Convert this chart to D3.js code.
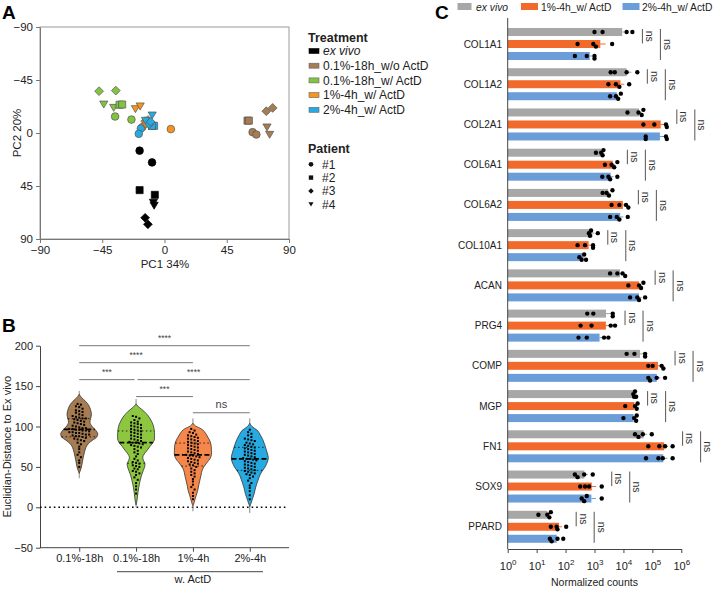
<!DOCTYPE html>
<html><head><meta charset="utf-8">
<script src="https://cdn.jsdelivr.net/npm/d3@7"></script>
<style>body{margin:0;background:#fff} text{font-family:"Liberation Sans",Arial,Helvetica,sans-serif;}</style>
</head><body>
<svg id="c" width="716" height="591" xmlns="http://www.w3.org/2000/svg"></svg>
<script>
// ================= DATA =================
// ---- Panel A (PCA) ----
const treatments = ["ex vivo","0.1%-18h_w/o ActD","0.1%-18h_w/ ActD","1%-4h_w/ ActD","2%-4h_w/ ActD"];
const treatColors = ["#000000","#a67c52","#82c341","#f7941d","#27aae1"];
const patients = ["#1","#2","#3","#4"];
const pcaTicks = [-90,-45,0,45,90];
// [patientIndex, PC1, PC2]
const pcaExVivo = [[0,-18,15],[0,-9,25],[1,-18,48.5],[1,-7,52.5],[3,-8,59],[3,-7.5,61.5],[2,-14,72],[2,-12,77.5]];
const pcaNoActD = [[1,60,-10.5],[1,61,-10.5],[2,73.6,-18.5],[2,78.2,-21.3],[0,63.7,-0.7],[0,66.4,1.3],[3,74.1,-5],[3,76,1.3]];
const pcaLowActD = [[2,-47.3,-35.5],[2,-35.2,-36],[3,-43.9,-24.4],[3,-36.7,-21.6],[1,-32.5,-24],[1,-30.6,-24.2],[0,-35.7,-14],[0,-23.9,-11.4]];
const pcaOneActD = [[3,-21,-20.5],[3,-17.6,-22.8],[0,4.6,-3.3],[0,-16,-5],[2,-14,-10],[2,-12,-11],[1,-13,-8],[1,-9,-6]];
const pcaTwoActD = [[3,-8.9,-15.1],[3,-13.7,-10.6],[1,-7.5,-6.1],[1,-9,-6],[2,-11.1,-7.5],[2,-10,-9.5],[0,-17.1,-3.8],[0,-18.6,0.7]];
const pcaSets = [pcaExVivo,pcaNoActD,pcaLowActD,pcaOneActD,pcaTwoActD];

// ---- Panel B (violins) ----
const violinGroups = ["0.1%-18h","0.1%-18h ","1%-4h","2%-4h"];
const violinColors = ["#a67c52","#8dc63f","#f6874a","#27aae1"];
const distTicks = [-50,0,50,100,150,200];
const distBrown = [128,127,125,124,122,120,119,118,117,115,114,113,112,111,110,110,109,108,107,106,105,104,103,102,101,100,99,98,98,97,97,96,96,95,95,94,93,93,92,92,91,90,90,89,88,88,87,86,85,84,83,82,80,78,75,72,68,65,62,58,55,50];
const distGreen = [113,112,110,108,106,105,104,103,102,101,100,99,98,97,96,95,94,93,92,91,90,89,88,87,86,85,84,83,82,81,80,80,79,78,77,76,75,74,72,70,68,66,63,60,58,56,55,54,52,51,50,48,47,45,44,42,40,37,34,30,26,22,17];
const distOrange = [97,95,93,92,90,89,88,87,86,85,84,83,82,81,80,79,78,77,76,75,74,73,72,71,70,69,68,67,66,65,64,64,63,62,61,60,59,58,57,56,55,54,53,52,50,48,46,44,42,40,38,35,32,28,25,22,18,14,10];
const distBlue = [96,93,91,89,87,85,84,83,82,80,79,78,77,76,75,74,73,72,71,70,69,68,67,66,65,64,63,62,61,60,60,59,58,57,56,55,54,53,52,51,50,49,48,47,46,45,44,43,42,41,40,38,36,33,30,27,24,20,15,10];
// relative density profiles [value, density 0..1]
const densBrown = [[140,0],[136,0.12],[131,0.35],[126,0.52],[120,0.62],[115,0.66],[110,0.62],[105,0.58],[100,0.7],[95,0.9],[91,1.0],[87,0.95],[83,0.72],[79,0.5],[74,0.36],[68,0.28],[62,0.22],[56,0.17],[50,0.12],[45,0.05],[42,0]];
const densGreen = [[128,0],[124,0.15],[119,0.42],[113,0.66],[108,0.8],[102,0.92],[96,0.98],[89,1.0],[83,0.98],[79,0.88],[75,0.74],[70,0.58],[66,0.44],[62,0.36],[58,0.4],[54,0.48],[50,0.46],[45,0.38],[40,0.3],[35,0.24],[30,0.19],[24,0.14],[18,0.1],[12,0.07],[6,0.03],[3,0]];
const densOrange = [[104,0],[101,0.12],[96,0.52],[91,0.7],[87,0.8],[82,0.92],[77,0.98],[70,1.0],[65,1.0],[60,0.92],[56,0.78],[51,0.62],[46,0.5],[40,0.44],[34,0.38],[28,0.32],[21,0.26],[15,0.18],[9,0.1],[4,0.04],[2,0]];
const densBlue = [[104,0],[100,0.12],[95,0.42],[90,0.56],[84,0.7],[78,0.8],[72,0.88],[66,0.96],[61,1.0],[56,0.95],[50,0.83],[45,0.68],[40,0.55],[35,0.47],[30,0.39],[24,0.31],[17,0.24],[12,0.17],[8,0.11],[4,0.05],[1,0]];
const tailRanges = [[36,144],[0,134],[-5,110],[-7,110]];
const violinValues = [distBrown,distGreen,distOrange,distBlue];
const violinDens = [densBrown,densGreen,densOrange,densBlue];
// significance: [groupA, groupB, level, label]
const sigPairs = [[0,3,200,"****"],[0,2,179,"****"],[0,1,158,"***"],[1,3,158,"****"],[1,2,137,"***"],[2,3,117,"ns"]];

// ---- Panel C (bars) ----
const genes = ["COL1A1","COL1A2","COL2A1","COL6A1","COL6A2","COL10A1","ACAN","PRG4","COMP","MGP","FN1","SOX9","PPARD"];
const barGroups = ["ex vivo","1%-4h_w/ ActD","2%-4h_w/ ActD"];
const barColors = ["#a7a7a7","#f26a2b","#6b9dd9"];
const countTicks = [1,10,100,1e3,1e4,1e5,1e6];
const countsExVivo = [[1000,1900,12900,20400],[3630,5010,12900,30200],[13800,33100,42700,49000],[1120,1700,1910,2040],[1910,2630,3160,4170],[640,700,760,1300],[3470,6170,9330,11500],[560,910,4270,4270],[12900,24000,56200,56200],[21900,23400,25100,27500],[25100,33100,46800,95500],[210,260,440,870],[11.5,23.4,27.5,30.9]];
const countsOneActD = [[260,910,1120,4070],[3020,5500,7240,15800],[49000,117000,295000,316000],[2290,3890,4790,6170],[3890,7240,12300,14800],[260,470,890,890],[14800,34700,40700,49000],[330,790,3630,5130],[72400,102000,209000,240000],[11500,25100,28800,30900],[72400,174000,275000,501000],[320,470,650,1780],[30.9,49,52.5,105]];
const countsTwoActD = [[210,540,1000,1000],[3470,5500,6600,8130],[58900,58900,295000,316000],[1860,3020,3470,6170],[3470,5890,7240,14100],[300,360,440,510],[17000,30200,34700,56200],[280,540,2140,3020],[72400,83200,141000,275000],[10000,23400,27500,28800],[60300,162000,229000,501000],[360,440,540,1780],[28.8,33.1,52.5,83.2]];
const barCounts = [countsExVivo,countsOneActD,countsTwoActD];

// ================= DRAW =================
const svg = d3.select("#c");
function styleAxis(g, fs){
  g.selectAll(".domain").attr("stroke","#444");
  g.selectAll(".tick line").attr("stroke","#444");
  g.selectAll(".tick text").attr("fill","#222").style("font-size",fs+"px")
   .style("font-family",'"Liberation Sans",Arial,sans-serif');
}
// panel letters
[["A",2,19],["B",2,332],["C",435,19]].forEach(([t,x,y])=>{
  svg.append("text").attr("x",x).attr("y",y).text(t).attr("font-weight","bold").attr("font-size",19).attr("fill","#000");
});

// ---- symbols ----
function symPath(p, s){
  s = s||1;
  if(p===0) return d3.symbol(d3.symbolCircle, 46*s*s)();
  if(p===1) return d3.symbol(d3.symbolSquare, 50*s*s)();
  if(p===2){ const a=4.4*s; return `M0,${-a}L${a},0L0,${a}L${-a},0Z`; }
  const w=4.1*s, h1=3.2*s, h2=3.8*s; return `M${-w},${-h1}L${w},${-h1}L0,${h2}Z`;
}

// ---- Panel A ----
const xA = d3.scaleLinear().domain([-90,90]).range([40,289]);
const yA = d3.scaleLinear().domain([-90,90]).range([27,239]);
const gA = svg.append("g");
gA.append("rect").attr("x",xA(-90)).attr("y",yA(-90)).attr("width",xA(90)-xA(-90)).attr("height",yA(90)-yA(-90))
  .attr("fill","none").attr("stroke","#9a9a9a").attr("stroke-width",1);
const axAx = gA.append("g").attr("transform",`translate(0,${yA(90)})`).call(d3.axisBottom(xA).tickValues(pcaTicks).tickSize(4).tickSizeOuter(0));
const axAy = gA.append("g").attr("transform",`translate(${xA(-90)},0)`).call(d3.axisLeft(yA).tickValues(pcaTicks).tickSize(4).tickSizeOuter(0));
styleAxis(axAx,11.5); styleAxis(axAy,11.5);
axAx.selectAll(".domain,.tick line").attr("stroke","#777");
axAy.selectAll(".domain,.tick line").attr("stroke","#777");
gA.append("text").attr("x",165).attr("y",268).attr("text-anchor","middle").attr("font-size",11.5).attr("fill","#222").text("PC1 34%");
gA.append("text").attr("transform","translate(21,133) rotate(-90)").attr("text-anchor","middle").attr("font-size",11.5).attr("fill","#222").text("PC2 20%");
pcaSets.forEach((set,t)=>{
  gA.append("g").selectAll("path").data(set).join("path")
    .attr("d",d=>symPath(d[0]))
    .attr("transform",d=>`translate(${xA(d[1])},${yA(d[2])})`)
    .attr("fill",treatColors[t])
    .attr("stroke",t===0?"#000":"#555").attr("stroke-width",0.7);
});
// legend A
const lg = svg.append("g");
lg.append("text").attr("x",308).attr("y",42).attr("font-weight","bold").attr("font-size",12.5).attr("fill","#222").text("Treatment");
treatments.forEach((t,i)=>{
  const cy = 51 + i*14.7;
  lg.append("rect").attr("x",309).attr("y",cy-2.5).attr("width",10).attr("height",5).attr("fill",treatColors[i]).attr("stroke",i===0?"#000":"#666").attr("stroke-width",0.6);
  lg.append("text").attr("x",323).attr("y",cy+4.3).attr("font-size",12).attr("fill","#222")
    .attr("font-style",i===0?"italic":"normal").text(t);
});
lg.append("text").attr("x",308).attr("y",153).attr("font-weight","bold").attr("font-size",12.5).attr("fill","#222").text("Patient");
patients.forEach((p,i)=>{
  const cy = 164.3 + i*13.3;
  lg.append("path").attr("d",symPath(i,0.62)).attr("transform",`translate(311,${cy})`).attr("fill","#111");
  lg.append("text").attr("x",322).attr("y",cy+4.3).attr("font-size",12).attr("fill","#222").text(p);
});

// ---- Panel B ----
const xB = d3.scalePoint().domain(violinGroups).range([40,289]).padding(0.69);
const yB = d3.scaleLinear().domain([-50,200]).range([547.7,345.7]);
const wB = d3.scaleLinear().domain([0,1]).range([0,18.5]);
const gB = svg.append("g");
const axBy = gB.append("g").attr("transform","translate(40,0)").call(d3.axisLeft(yB).tickValues(distTicks).tickSize(4).tickSizeOuter(0));
const axBx = gB.append("g").attr("transform",`translate(0,${yB(-50)})`).call(d3.axisBottom(xB).tickSize(4).tickSizeOuter(0));
styleAxis(axBy,11); styleAxis(axBx,11);
axBx.select(".domain").attr("d",`M40,0H289`);
gB.append("text").attr("transform",`translate(11,${(yB(200)+yB(-50))/2}) rotate(-90)`).attr("text-anchor","middle").attr("font-size",11).attr("fill","#222").text("Euclidian-Distance to Ex vivo");
// w. ActD underline
gB.append("line").attr("x1",117).attr("x2",263).attr("y1",571.7).attr("y2",571.7).attr("stroke","#444");
gB.append("text").attr("x",(xB(violinGroups[1])+xB(violinGroups[3]))/2).attr("y",583).attr("text-anchor","middle").attr("font-size",11).attr("fill","#222").text("w. ActD");
// zero dotted line
gB.append("line").attr("x1",40).attr("x2",286).attr("y1",yB(0)).attr("y2",yB(0)).attr("stroke","#000").attr("stroke-width",1.6).attr("stroke-dasharray","1.6,3");

function densAt(prof, v){
  for(let i=0;i<prof.length-1;i++){
    const [a,da]=prof[i],[b,db]=prof[i+1];
    if(v<=a && v>=b){ return da + (db-da)*(a-v)/(a-b); }
  }
  return 0;
}
violinGroups.forEach((g,i)=>{
  const cx = xB(g);
  const prof = violinDens[i];
  gB.append("line").attr("x1",cx).attr("x2",cx).attr("y1",yB(tailRanges[i][0])).attr("y2",yB(tailRanges[i][1])).attr("stroke","#888").attr("stroke-width",1);
  const area = d3.area().curve(d3.curveCatmullRom)
    .y(d=>yB(d[0])).x0(d=>cx-wB(d[1])).x1(d=>cx+wB(d[1]));
  gB.append("path").attr("d",area(prof)).attr("fill",violinColors[i]).attr("stroke","#333").attr("stroke-width",0.8);
  const vals = violinValues[i].slice().sort(d3.ascending);
  const q1=d3.quantile(vals,0.25), med=d3.quantile(vals,0.5), q3=d3.quantile(vals,0.75);
  [q1,q3].forEach(q=>{
    const w=wB(densAt(prof,q));
    gB.append("line").attr("x1",cx-w).attr("x2",cx+w).attr("y1",yB(q)).attr("y2",yB(q)).attr("stroke","#000").attr("stroke-width",0.8).attr("stroke-dasharray","1.5,2.5");
  });
  const wm = wB(densAt(prof,med));
  gB.append("line").attr("x1",cx-wm).attr("x2",cx+wm).attr("y1",yB(med)).attr("y2",yB(med)).attr("stroke","#000").attr("stroke-width",1.8).attr("stroke-dasharray","5,2.5");
  const bins = d3.group(violinValues[i], v=>Math.round(v/4));
  const pts=[];
  for(const [,arr] of bins){ arr.forEach((v,j)=>pts.push({v,dx:(j-(arr.length-1)/2)*3.3})); }
  gB.append("g").selectAll("rect").data(pts).join("rect")
    .attr("x",d=>cx+d.dx-1).attr("y",d=>yB(d.v)-1).attr("width",2).attr("height",2).attr("fill","#000");
});
sigPairs.forEach(([a,b,lvl,lab])=>{
  let x1=xB(violinGroups[a]), x2=xB(violinGroups[b]);
  const shared = sigPairs.filter(s=>s[2]===lvl).length>1;
  if(shared){ if(a===0) x2-=1.5; else x1+=1.5; }
  const y=yB(lvl);
  gB.append("line").attr("x1",x1).attr("x2",x2).attr("y1",y).attr("y2",y).attr("stroke","#777").attr("stroke-width",1);
  gB.append("text").attr("x",(x1+x2)/2).attr("y",y-5).attr("text-anchor","middle")
    .attr("font-size",lab==="ns"?11:8.5).attr("fill","#444").text(lab);
});

// ---- Panel C ----
const xC = d3.scaleLog().domain([1,1e6]).range([507.7,681.3]);
const yG = d3.scaleBand().domain(genes).range([24,547]);
const yI = d3.scaleBand().domain([0,1,2]).range([4,36]).paddingInner(1/3);
const gC = svg.append("g");
const legX = [[457.5,476],[521,541],[622.5,642]];
barGroups.forEach((b,i)=>{
  gC.append("rect").attr("x",legX[i][0]).attr("y",3).attr("width",i===0?14:17).attr("height",7).attr("fill",barColors[i]);
  gC.append("text").attr("x",legX[i][1]).attr("y",10.5).attr("font-size",10.3).attr("fill","#222")
    .attr("font-style",i===0?"italic":"normal").text(b);
});
genes.forEach((gname,gi)=>{
  const top = yG(gname);
  gC.append("text").attr("x",502).attr("y",top+20).attr("dy","0.35em").attr("text-anchor","end").attr("font-size",10).attr("fill","#222").text(gname);
  let maxV = 0;
  barCounts.forEach((set,k)=>{
    const vals = set[gi];
    maxV = Math.max(maxV, d3.max(vals));
    const mean = d3.mean(vals), sem = d3.deviation(vals)/Math.sqrt(vals.length);
    const y = top + yI(k), h = yI.bandwidth();
    gC.append("rect").attr("x",xC(1)).attr("y",y).attr("width",xC(mean)-xC(1)).attr("height",h).attr("fill",barColors[k]);
    gC.append("line").attr("x1",xC(mean)).attr("x2",xC(mean+sem)).attr("y1",y+h/2).attr("y2",y+h/2).attr("stroke",barColors[k]).attr("stroke-width",1);
    const sorted = vals.slice().sort(d3.ascending);
    let prevX=-99, alt=0;
    sorted.forEach(v=>{
      const px = xC(v); let dy=0;
      if(px-prevX<3.5){ alt++; dy = (alt%2?2.6:-2.6);} else alt=0;
      prevX=px;
      gC.append("circle").attr("cx",px).attr("cy",y+h/2+dy).attr("r",2.2).attr("fill","#000");
    });
  });
  const lx1 = xC(maxV)+10, lx2 = lx1+18;
  const gTop = top + yI(0), oBot = top + yI(1) + yI.bandwidth(), bBot = top + yI(2) + yI.bandwidth();
  [[lx1,gTop+1,oBot-4.5],[lx2,gTop+1,bBot]].forEach(([lx,y1,y2])=>{
    gC.append("line").attr("x1",lx).attr("x2",lx).attr("y1",y1).attr("y2",y2).attr("stroke","#555").attr("stroke-width",1);
    gC.append("text").attr("transform",`translate(${lx+3.5},${(y1+y2)/2}) rotate(90)`).attr("text-anchor","middle")
      .attr("font-size",10.5).attr("fill","#333").text("ns");
  });
});
gC.append("line").attr("x1",xC(1)).attr("x2",xC(1)).attr("y1",18).attr("y2",549).attr("stroke","#444");
const axCx = gC.append("g").attr("transform","translate(0,549)")
  .call(d3.axisBottom(xC).tickValues(countTicks).tickSize(4).tickSizeOuter(0).tickFormat(()=>""));
styleAxis(axCx,11);
axCx.selectAll(".tick").each(function(d){
  const t = d3.select(this).append("text").attr("y",21).attr("text-anchor","middle").attr("fill","#222").style("font-size","11px");
  t.append("tspan").text("10");
  t.append("tspan").attr("dy",-5).style("font-size","8px").text(Math.round(Math.log10(d)));
});
gC.append("text").attr("x",594.5).attr("y",586).attr("text-anchor","middle").attr("font-size",10.5).attr("fill","#222").text("Normalized counts");
</script>
</body></html>
